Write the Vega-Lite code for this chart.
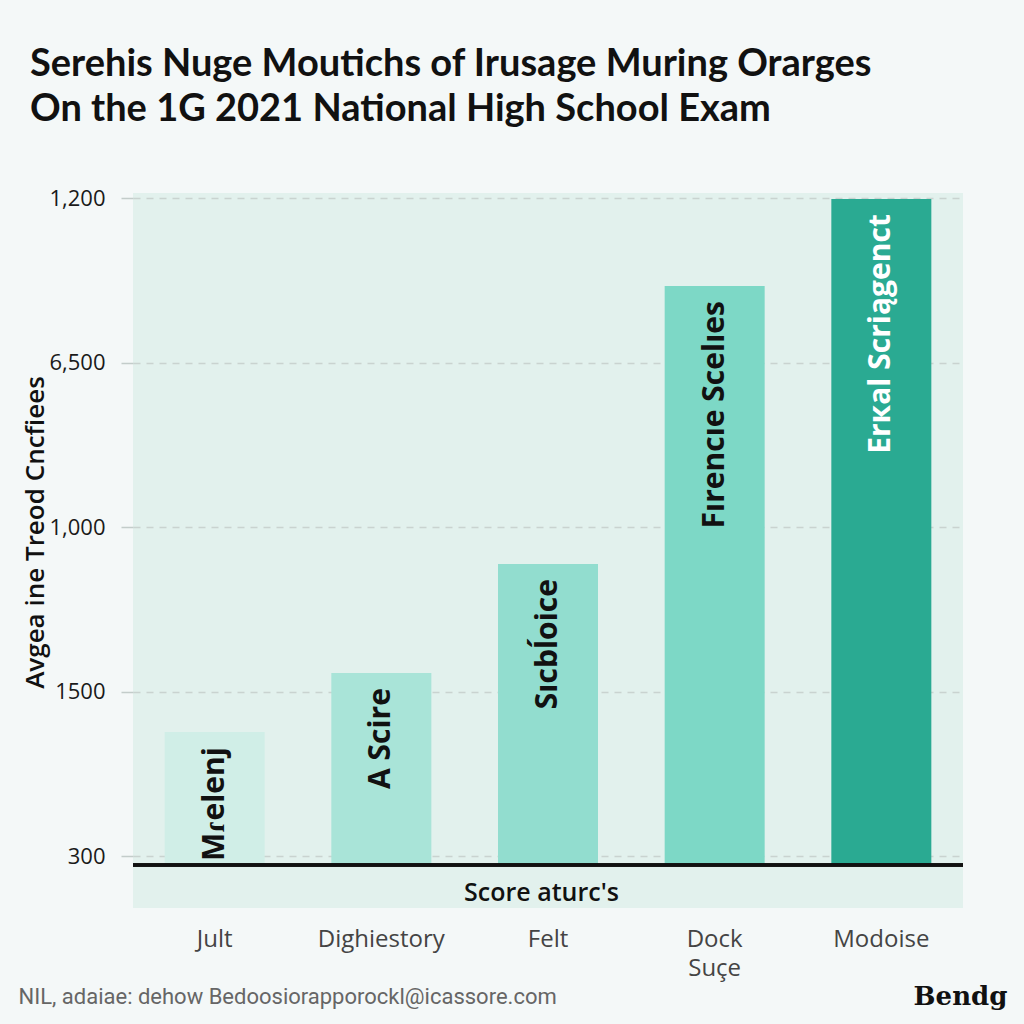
{
  "$schema": "https://vega.github.io/schema/vega-lite/v6.json",
  "autosize": "none",
  "padding": {"left": 133, "top": 193, "right": 61, "bottom": 116},
  "width": 830,
  "height": 715,
  "background": "#f4f8f8",
  "view": {"stroke": null, "fill": "#e2f1ed"},
  "title": {
    "text": ["Serehis Nuge Moutichs of Irusage Muring Orarges", "On the 1G 2021 National High School Exam"],
    "anchor": "start",
    "frame": "group",
    "dx": -103,
    "offset": 58,
    "font": "Lato",
    "fontWeight": 700,
    "fontSize": 38,
    "lineHeight": 45,
    "color": "#111"
  },
  "data": {
    "values": [
      {"subject": "Jult", "score": 0.754, "label": "Mɾelenj"},
      {"subject": "Dighiestory", "score": 1.113, "label": "A Scire"},
      {"subject": "Felt", "score": 1.776, "label": "Sıcbĺoice"},
      {"subject": "Dock Suçe", "score": 3.467, "label": "Fırencıe Scelıes"},
      {"subject": "Modoise", "score": 3.996, "label": "Erкal Scriągenct"}
    ]
  },
  "resolve": {"axis": {"x": "independent", "y": "independent"}},
  "layer": [
    {
      "mark": {"type": "bar"},
      "encoding": {
        "x": {
          "field": "subject", "type": "nominal", "sort": null,
          "scale": {"paddingInner": 0.4, "paddingOuter": 0.19},
          "axis": {
            "orient": "bottom",
            "title": "Score aturc's",
            "titleX": 408, "titleY": -16, "titleBaseline": "middle", "titleAlign": "center",
            "titleFont": "Open Sans", "titleFontWeight": 600, "titleFontSize": 25, "titleColor": "#111",
            "labelAngle": 0, "labelFont": "Open Sans", "labelFontSize": 24, "labelColor": "#444",
            "labelPadding": 19, "labelLineHeight": 29,
            "labelExpr": "datum.value == 'Dock Suçe' ? ['Dock', 'Suçe'] : datum.value",
            "ticks": false, "tickSize": 0, "domain": false, "grid": false
          }
        },
        "y": {
          "field": "score", "type": "quantitative",
          "scale": {"domain": [-0.316, 4.033], "nice": false, "zero": false},
          "axis": {
            "orient": "left",
            "values": [0, 1, 2, 3, 4],
            "labelExpr": "datum.value == 4 ? '1,200' : datum.value == 3 ? '6,500' : datum.value == 2 ? '1,000' : datum.value == 1 ? '1500' : '300'",
            "labelFont": "Open Sans", "labelFontSize": 22, "labelColor": "#1a1a1a", "labelPadding": 16,
            "tickSize": 12, "tickColor": "#c3ccca", "tickWidth": 1.5,
            "domain": false,
            "grid": true, "gridColor": "#c9d3d0", "gridDash": [7, 6], "gridWidth": 1.5,
            "title": "Avgea ine Treod Cncfiees",
            "titleFont": "Open Sans", "titleFontWeight": 600, "titleFontSize": 26, "titleColor": "#111",
            "titleAngle": -90, "titleX": -98, "titleY": 339, "titleAlign": "center", "titleBaseline": "middle"
          }
        },
        "y2": {"datum": -0.055},
        "color": {
          "field": "subject", "type": "nominal", "sort": null, "legend": null,
          "scale": {
            "domain": ["Jult", "Dighiestory", "Felt", "Dock Suçe", "Modoise"],
            "range": ["#d0eee7", "#a9e4d8", "#92ddcf", "#7dd8c6", "#2aaa92"]
          }
        }
      }
    },
    {
      "mark": {"type": "text", "angle": 270, "align": "right", "baseline": "middle", "dx": -15, "font": "Open Sans", "fontWeight": 700, "fontSize": 30},
      "encoding": {
        "x": {"field": "subject", "type": "nominal", "sort": null, "axis": null},
        "y": {"field": "score", "type": "quantitative", "axis": null},
        "text": {"field": "label"},
        "color": {"condition": {"test": "datum.subject == 'Modoise'", "value": "#ffffff"}, "value": "#111111"}
      }
    },
    {
      "mark": {"type": "rule", "color": "#111", "strokeWidth": 3},
      "encoding": {"y": {"datum": -0.055, "type": "quantitative", "axis": null}}
    },
    {
      "mark": {"type": "point", "opacity": 0},
      "encoding": {
        "x": {
          "field": "subject", "type": "nominal", "sort": null,
          "axis": {
            "orient": "top", "labels": false, "ticks": false, "domain": false, "grid": false,
            "title": "NIL, adaiae: dehow Bedoosiorapporockl@icassore.com",
            "titleFont": "Roboto", "titleFontWeight": 400, "titleFontSize": 22, "titleColor": "#666",
            "titleAngle": 0, "titleX": -115, "titleY": 803, "titleAlign": "left", "titleBaseline": "middle"
          }
        },
        "y": {
          "field": "score", "type": "quantitative",
          "axis": {
            "orient": "right", "labels": false, "ticks": false, "domain": false, "grid": false,
            "title": "Bendg",
            "titleFont": "DejaVu Serif", "titleFontWeight": 700, "titleFontSize": 26, "titleColor": "#111",
            "titleAngle": 0, "titleX": -3, "titleY": 803, "titleAlign": "center", "titleBaseline": "middle"
          }
        }
      }
    }
  ]
}
